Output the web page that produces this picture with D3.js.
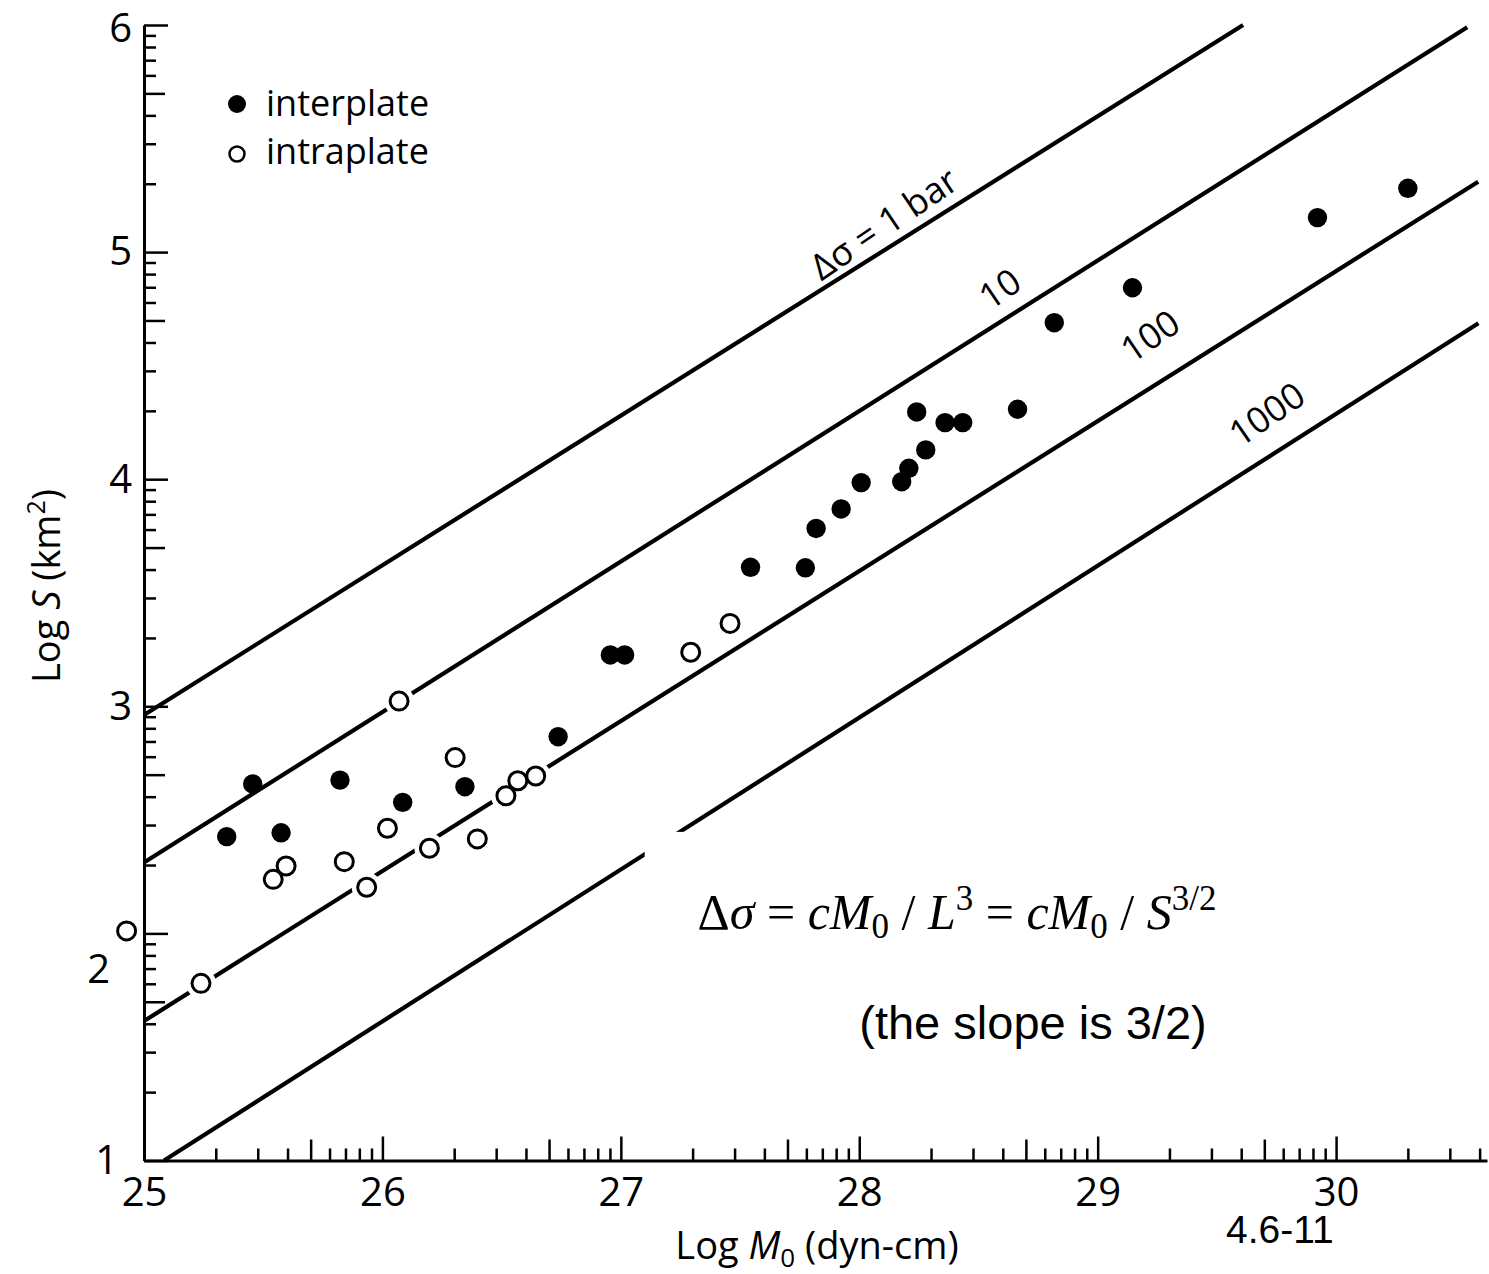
<!DOCTYPE html>
<html>
<head>
<meta charset="utf-8">
<script src="https://cdn.jsdelivr.net/npm/d3@7"></script>
<style>
  body { margin: 0; background: #fff; }
</style>
</head>
<body>
<div id="chart"></div>
<script>
// interplate events (filled)
var interLogM = [25.347, 25.456, 25.575, 25.822, 26.085, 26.346, 26.737, 26.956, 27.016, 27.544,
                 27.774, 27.819, 27.924, 28.008, 28.178, 28.208, 28.241, 28.279, 28.360, 28.434,
                 28.664, 28.818, 29.146, 29.922, 30.301];
var interLogS = [2.426, 2.658, 2.443, 2.675, 2.577, 2.646, 2.866, 3.226, 3.226, 3.612,
                 3.610, 3.783, 3.869, 3.985, 3.989, 4.048, 4.296, 4.129, 4.249, 4.249,
                 4.308, 4.689, 4.843, 5.152, 5.281];
// intraplate events (open)
var intraLogM = [24.927, 25.239, 25.542, 25.596, 25.840, 25.934, 26.021, 26.070, 26.197, 26.305,
                 26.398, 26.518, 26.568, 26.643, 27.293, 27.458];
var intraLogS = [2.011, 1.780, 2.238, 2.297, 2.316, 2.203, 2.463, 3.023, 2.375, 2.774,
                 2.416, 2.606, 2.672, 2.693, 3.238, 3.365];

// constant stress drop lines
var stressLabels = ["\u0394\u03c3 = 1 bar", "10", "100", "1000"];
var stressStart = [[25, 2.962], [25, 2.312], [25, 1.614], [25.084, 1.0]];
var stressEnd   = [[29.61, 6.0], [30.55, 5.99], [30.596, 5.31], [30.597, 4.687]];
var stressLabelAt = [[28.104, 5.125], [28.59, 4.838], [29.22, 4.63], [29.71, 4.286]];

var xMajor = [25, 26, 27, 28, 29, 30];
var yMajor = [1, 2, 3, 4, 5, 6];
var xMax = 30.633;

var W = 1489, H = 1274;
var margin = {top: 25, right: 2, bottom: 113.5, left: 144};
var sans = "Open Sans, Noto Sans, sans-serif";

var svg = d3.select("#chart").append("svg")
    .attr("width", W)
    .attr("height", H)
    .attr("font-family", sans);

var x = d3.scaleLinear().domain([25, xMax]).range([margin.left, W - margin.right]);
var y = d3.scaleLinear().domain([1, 6]).range([H - margin.bottom, margin.top]);

function isMajor(d) { return Math.abs(d - Math.round(d)) < 1e-9; }
function isMid(d) { return Math.abs((d - Math.floor(d)) - Math.log10(5)) < 1e-9; }
function tickLen(d) { return isMajor(d) ? 24 : (isMid(d) ? 21 : 12); }

// log-decade minor ticks
function decadeTicks(majors, maxV) {
    var out = [];
    majors.forEach(function(m) {
        out.push(m);
        for (var k = 2; k <= 9; k++) {
            var v = m + Math.log10(k);
            if (v <= maxV) out.push(v);
        }
    });
    return out;
}
var xTicks = decadeTicks(xMajor, xMax);
var yTicks = decadeTicks(yMajor, 6);

// stress-drop lines
var line = d3.line().x(function(d) { return x(d[0]); }).y(function(d) { return y(d[1]); });

svg.append("g").selectAll("path")
    .data(stressStart.map(function(s, i) { return [s, stressEnd[i]]; }))
    .enter().append("path")
        .attr("d", line)
        .attr("fill", "none")
        .attr("stroke", "#000")
        .attr("stroke-width", 4.2);

// white box behind the formula
svg.append("rect")
    .attr("x", x(27.10))
    .attr("y", y(2.447))
    .attr("width", x(29.6) - x(27.10))
    .attr("height", y(1.4) - y(2.447))
    .attr("fill", "#fff");

// line labels
svg.append("g").selectAll("text")
    .data(stressLabels)
    .enter().append("text")
        .attr("transform", function(d, i) {
            var a = Math.atan2(y(stressEnd[i][1]) - y(stressStart[i][1]), x(stressEnd[i][0]) - x(stressStart[i][0])) * 180 / Math.PI;
            return "translate(" + x(stressLabelAt[i][0]) + "," + y(stressLabelAt[i][1]) + ") rotate(" + (a - 2) + ")";
        })
        .attr("text-anchor", "middle")
        .attr("dy", "0.35em")
        .attr("font-size", 36)
        .text(function(d) { return d; });

// halos under open circles (cut the lines)
var halo = svg.append("g");
halo.selectAll("circle")
    .data(intraLogM)
    .enter().append("circle")
        .attr("cx", function(d) { return x(d); })
        .attr("cy", function(d, i) { return y(intraLogS[i]); })
        .attr("r", 15)
        .attr("fill", "#fff");

// axes
var xAxis = d3.axisBottom(x)
    .tickValues(xTicks)
    .tickSizeInner(-24)
    .tickSizeOuter(0)
    .tickPadding(17)
    .tickFormat(function(d) { return isMajor(d) ? Math.round(d) : ""; });

var gx = svg.append("g")
    .attr("transform", "translate(0," + y(1) + ")")
    .call(xAxis);
gx.select(".domain").attr("stroke-width", 3);
gx.selectAll(".tick line")
    .attr("y2", function(d) { return -tickLen(d); })
    .attr("stroke-width", 2.5);
gx.selectAll(".tick text")
    .attr("font-size", 40)
    .attr("font-family", sans);

var yAxis = d3.axisLeft(y)
    .tickValues(yTicks)
    .tickSizeInner(-24)
    .tickSizeOuter(0)
    .tickPadding(12)
    .tickFormat(function(d) { return isMajor(d) ? Math.round(d) : ""; });

var gy = svg.append("g")
    .attr("transform", "translate(" + x(25) + ",0)")
    .call(yAxis);
gy.select(".domain").attr("stroke-width", 3);
gy.selectAll(".tick line")
    .attr("x2", function(d) { return tickLen(d); })
    .attr("stroke-width", 2.5);
gy.selectAll(".tick text")
    .attr("font-size", 40)
    .attr("font-family", sans);
// the "2" label is pushed down-left, clear of the data point; "1" sits a bit left
gy.selectAll(".tick text")
    .filter(function(d) { return Math.abs(d - 2) < 1e-9; })
    .attr("transform", "translate(-22,36)");
gy.selectAll(".tick text")
    .filter(function(d) { return Math.abs(d - 1) < 1e-9; })
    .attr("transform", "translate(-14,0)");
gy.selectAll(".tick text")
    .filter(function(d) { return Math.abs(d - 6) < 1e-9; })
    .attr("transform", "translate(0,4)");

// points
svg.append("g").selectAll("circle")
    .data(interLogM)
    .enter().append("circle")
        .attr("cx", function(d) { return x(d); })
        .attr("cy", function(d, i) { return y(interLogS[i]); })
        .attr("r", 9.7)
        .attr("fill", "#000");

svg.append("g").selectAll("circle")
    .data(intraLogM)
    .enter().append("circle")
        .attr("cx", function(d) { return x(d); })
        .attr("cy", function(d, i) { return y(intraLogS[i]); })
        .attr("r", 9)
        .attr("fill", "#fff")
        .attr("stroke", "#000")
        .attr("stroke-width", 3);

// legend
var legend = svg.append("g");
legend.append("circle").attr("cx", 237).attr("cy", 104).attr("r", 9).attr("fill", "#000");
legend.append("circle").attr("cx", 237).attr("cy", 154).attr("r", 7.5)
    .attr("fill", "#fff").attr("stroke", "#000").attr("stroke-width", 2.5);
legend.append("text").attr("x", 266).attr("y", 116).attr("font-size", 36).text("interplate");
legend.append("text").attr("x", 266).attr("y", 164).attr("font-size", 36).text("intraplate");

// axis titles
var xt = svg.append("text")
    .attr("x", 817).attr("y", 1259)
    .attr("text-anchor", "middle")
    .attr("font-size", 38);
xt.append("tspan").text("Log ");
xt.append("tspan").attr("font-style", "italic").text("M");
xt.append("tspan").attr("font-size", 26).attr("dy", 8).text("0");
xt.append("tspan").attr("dy", -8).text(" (dyn-cm)");

var yt = svg.append("text")
    .attr("transform", "translate(60,586) rotate(-90)")
    .attr("text-anchor", "middle")
    .attr("font-size", 38);
yt.append("tspan").text("Log ");
yt.append("tspan").attr("font-style", "italic").text("S");
yt.append("tspan").text(" (km");
yt.append("tspan").attr("font-size", 25).attr("dy", -15).text("2");
yt.append("tspan").attr("dy", 15).text(")");

// formula
var serif = "Liberation Serif, Times New Roman, serif";
var eq = svg.append("text")
    .attr("x", 957).attr("y", 929)
    .attr("text-anchor", "middle")
    .attr("font-family", serif)
    .attr("font-size", 50);
eq.append("tspan").text("\u0394");
eq.append("tspan").attr("font-style", "italic").text("\u03c3");
eq.append("tspan").text(" = ");
eq.append("tspan").attr("font-style", "italic").text("cM");
eq.append("tspan").attr("font-size", 35).attr("dy", 9).text("0");
eq.append("tspan").attr("dy", -9).text(" / ");
eq.append("tspan").attr("font-style", "italic").text("L");
eq.append("tspan").attr("font-size", 35).attr("dy", -19).text("3");
eq.append("tspan").attr("dy", 19).text(" = ");
eq.append("tspan").attr("font-style", "italic").text("cM");
eq.append("tspan").attr("font-size", 35).attr("dy", 9).text("0");
eq.append("tspan").attr("dy", -9).text(" / ");
eq.append("tspan").attr("font-style", "italic").text("S");
eq.append("tspan").attr("font-size", 35).attr("dy", -19).text("3/2");

svg.append("text")
    .attr("x", 1033).attr("y", 1039)
    .attr("text-anchor", "middle")
    .attr("font-family", "Liberation Sans, Arial, sans-serif")
    .attr("font-size", 47)
    .text("(the slope is 3/2)");

svg.append("text")
    .attr("x", 1226).attr("y", 1243)
    .attr("font-family", "Liberation Sans, Arial, sans-serif")
    .attr("font-size", 39)
    .text("4.6-11");
</script>
</body>
</html>
